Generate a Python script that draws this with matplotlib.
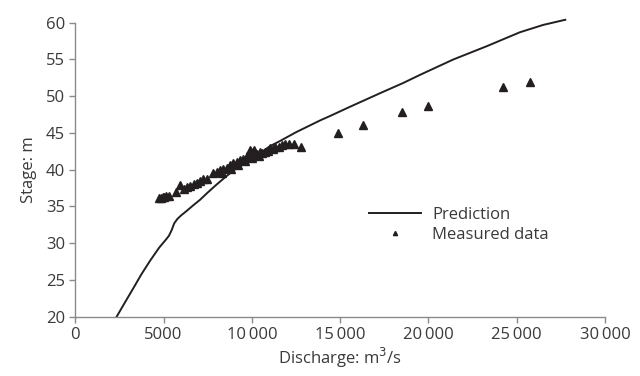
import matplotlib
matplotlib.use("Agg")
import matplotlib.pyplot as plt

plt.rcParams['font.family'] = ['Open Sans', 'DejaVu Sans']

# prediction curve
pred_q = [2340, 2800, 3290, 3750, 4230, 4750, 5100, 5300, 5460, 5600, 5780,
          6000, 6310, 6700, 7060, 7500, 8010, 8500, 8960, 9400, 9890, 10500,
          11020, 11590, 12500, 13860, 14420, 15500, 17250, 18570, 19520,
          21410, 23300, 25180, 26500, 27750]
pred_h = [20.0, 21.9, 23.9, 25.8, 27.6, 29.4, 30.4, 31.0, 31.8, 32.7, 33.3,
          33.8, 34.4, 35.2, 35.9, 36.9, 38.0, 39.0, 39.9, 40.6, 41.3, 42.3,
          43.2, 43.9, 45.1, 46.7, 47.3, 48.5, 50.4, 51.8, 52.9,
          55.0, 56.8, 58.7, 59.7, 60.4]

# measured data
meas_q = [4750, 4850, 4950, 5050, 5150, 5300, 5700, 5930, 6130, 6320, 6500,
          6700, 6880, 7050, 7250, 7440, 7820, 8010, 8200, 8380, 8570, 8760,
          8950, 9140, 9330, 9500, 9700, 9890, 9950, 10100, 10280, 10470,
          10600, 10750, 10900, 11040, 11200, 11320, 11510, 11700, 11880,
          12130, 12410, 12760, 9200, 9600, 10000, 10400, 8300, 8800,
          14890, 16310, 18520, 19970, 24220, 25770]
meas_h = [36.1, 36.2, 36.3, 36.3, 36.4, 36.4, 36.9, 37.9, 37.4, 37.6, 37.8,
          38.0, 38.2, 38.4, 38.7, 38.8, 39.5, 39.7, 40.0, 40.1, 40.3, 40.6,
          40.9, 41.1, 41.3, 41.4, 41.8, 42.7, 42.4, 42.7, 42.2, 42.4,
          42.3, 42.4, 42.6, 42.9, 42.8, 43.1, 43.1, 43.4, 43.5,
          43.5, 43.5, 43.1, 40.7, 41.2, 41.6, 41.9, 39.6, 40.1,
          45.0, 46.1, 47.8, 48.6, 51.3, 51.9]

x_ticks = [0, 5000, 10000, 15000, 20000, 25000, 30000]
x_labels = ["0", "5000", "10\u2009000", "15\u2009000", "20\u2009000",
            "25\u2009000", "30\u2009000"]
y_ticks = [20, 25, 30, 35, 40, 45, 50, 55, 60]

ink = "#231f20"
txt = "#3a3a3a"
axc = "#8a8a8a"

fig = plt.figure(figsize=(6.4, 3.76), dpi=100)
ax = fig.add_axes([0.1177, 0.1577, 0.8276, 0.7819])

ax.plot(pred_q, pred_h, color=ink, lw=1.4, label="Prediction", clip_on=False,
        solid_joinstyle="round")
ax.plot(meas_q, meas_h, ls="none", marker="^", ms=5.5, color=ink,
        label="Measured data")

ax.set_xlim(0, 30000)
ax.set_ylim(20, 60)
ax.set_xticks(x_ticks)
ax.set_xticklabels(x_labels)
ax.set_yticks(y_ticks)

for s in ["top", "right"]:
    ax.spines[s].set_visible(False)
for s in ["left", "bottom"]:
    ax.spines[s].set_color(axc)
    ax.spines[s].set_linewidth(1.0)
ax.tick_params(colors=axc, labelcolor=txt, labelsize=12, length=4, width=1.0)

ax.set_xlabel("Discharge: m$^3$/s", fontsize=12, color=txt, labelpad=2)
ax.set_ylabel("Stage: m", fontsize=12, color=txt, labelpad=6)

leg = ax.legend(frameon=False, loc="center left", bbox_to_anchor=(0.5545, 0.312),
                borderaxespad=0, borderpad=0, handlelength=3.1,
                handletextpad=0.7, labelspacing=0.2, fontsize=12,
                markerscale=0.55)
for t in leg.get_texts():
    t.set_color(txt)

fig.savefig("out.png", dpi=100)
